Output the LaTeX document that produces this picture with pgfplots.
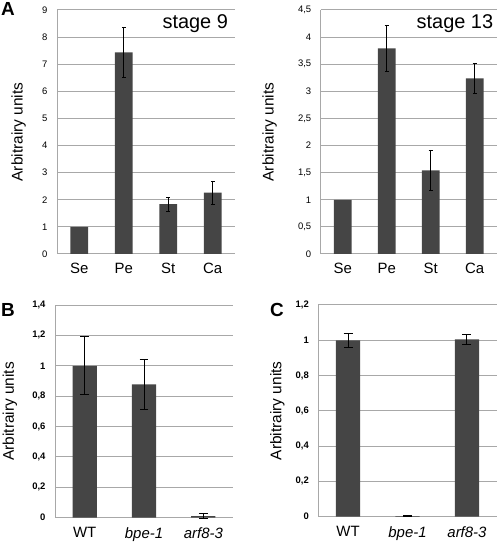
\documentclass[border=0pt]{standalone}
\usepackage{fontspec}
\setmainfont{Liberation Sans}
\usepackage{pgfplots}
\pgfplotsset{compat=1.18}
\usepackage{pgfplotstable}
\definecolor{barc}{HTML}{454545}
\definecolor{gridc}{HTML}{A8A8A8}

\pgfplotstableread{
x y e
0 1.00 0
1 7.44 0.92
2 1.84 0.26
3 2.26 0.42
}\stagenine
\pgfplotstableread{
x y e
0 1.00 0
1 3.79 0.42
2 1.54 0.37
3 3.24 0.28
}\stagethirteen
\pgfplotstableread{
x y e
0 1.00 0.19
1 0.877 0.165
2 0.01 0.015
}\panelB
\pgfplotstableread{
x y e
0 1.00 0.04
1 0.003 0.002
2 1.005 0.03
}\panelC

\pgfplotsset{
  mystyle/.style={
    scale only axis,
    anchor=south west,
    axis x line*=bottom,
    axis y line*=left,
    axis line style={gridc, line width=1pt},
    ymajorgrids,
    grid style={gridc, line width=1pt},
    major tick length=0pt,
    xtick=data,
    ymin=0,
    /pgf/number format/use comma,
    /pgf/number format/assume math mode=true,
    yticklabel style={font=\fontsize{9.5}{10}\selectfont, xshift=-6bp},
    xticklabel style={font=\fontsize{15}{16}\selectfont, yshift=-6bp},
    ylabel={Arbitrairy units},
    ylabel style={font=\fontsize{15.5}{17}\selectfont, anchor=center},
    ybar, bar width=0.4, bar shift=0pt,
    clip=false,
  },
  mybar/.style={fill=barc, draw=none},
  myerr/.style={draw=none, fill=none, forget plot,
    restrict expr to domain={\thisrow{e}}{0.0001:100},
    error bars/.cd, y dir=both, y explicit,
    error bar style={black, line width=1pt},
    error mark options={black, rotate=90, mark size=#1, line width=1pt}},
}

\begin{document}
\begin{tikzpicture}
\useasboundingbox (0,0) rectangle (498bp,545bp);

% Panel A, stage 9
\begin{axis}[mystyle,
  at={(57bp,291bp)}, width=178bp, height=244bp,
  xmin=-0.5, xmax=3.5, ymax=9, ytick={0,1,...,9},
  xticklabels={Se,Pe,St,Ca},
  ylabel style={at={(axis description cs:-0.215,0.5)}},
]
\addplot[mybar] table[x=x,y=y]{\stagenine};
\addplot[myerr=2pt] table[x=x,y=y,y error=e]{\stagenine};
\node[anchor=north east, font=\fontsize{20}{22}\selectfont] at (rel axis cs:0.98,0.995) {stage 9};
\end{axis}

% Panel A, stage 13
\begin{axis}[mystyle,
  at={(320.7bp,291bp)}, width=176bp, height=244bp,
  xmin=-0.5, xmax=3.5, ymax=4.5, ytick={0,0.5,...,4.5},
  xticklabels={Se,Pe,St,Ca},
  ylabel style={at={(axis description cs:-0.29,0.5)}},
]
\addplot[mybar] table[x=x,y=y]{\stagethirteen};
\addplot[myerr=2pt] table[x=x,y=y,y error=e]{\stagethirteen};
\node[anchor=north east, font=\fontsize{20}{22}\selectfont] at (rel axis cs:1.0,0.995) {stage 13};
\end{axis}

% Panel B
\begin{axis}[mystyle,
  at={(55bp,27.3bp)}, width=178bp, height=212.7bp,
  xmin=-0.5, xmax=2.5, ymax=1.4, ytick={0,0.2,...,1.4},
  xticklabels={WT,\textit{bpe-1},\textit{arf8-3}},
  yticklabel style={font=\bfseries\fontsize{9.5}{10}\selectfont},
  ylabel style={at={(axis description cs:-0.253,0.5)}},
  bar width=0.41,
]
\addplot[mybar] table[x=x,y=y]{\panelB};
\addplot[myerr=4.5pt] table[x=x,y=y,y error=e]{\panelB};
\end{axis}

% Panel C
\begin{axis}[mystyle,
  at={(318.3bp,28.3bp)}, width=178.4bp, height=211.7bp,
  xmin=-0.5, xmax=2.5, ymax=1.2, ytick={0,0.2,...,1.2},
  xticklabels={WT,\textit{bpe-1},\textit{arf8-3}},
  yticklabel style={font=\bfseries\fontsize{9.5}{10}\selectfont},
  ylabel style={at={(axis description cs:-0.23,0.5)}},
  bar width=0.41,
]
\addplot[mybar] table[x=x,y=y]{\panelC};
\addplot[myerr=4.5pt] table[x=x,y=y,y error=e]{\panelC};
\end{axis}

\node[anchor=north west, font=\bfseries\fontsize{19}{20}\selectfont, inner sep=0pt] at (1bp,543bp) {A};
\node[anchor=north west, font=\bfseries\fontsize{19}{20}\selectfont, inner sep=0pt] at (1bp,242bp) {B};
\node[anchor=north west, font=\bfseries\fontsize{19}{20}\selectfont, inner sep=0pt] at (270bp,242bp) {C};
\end{tikzpicture}
\end{document}
